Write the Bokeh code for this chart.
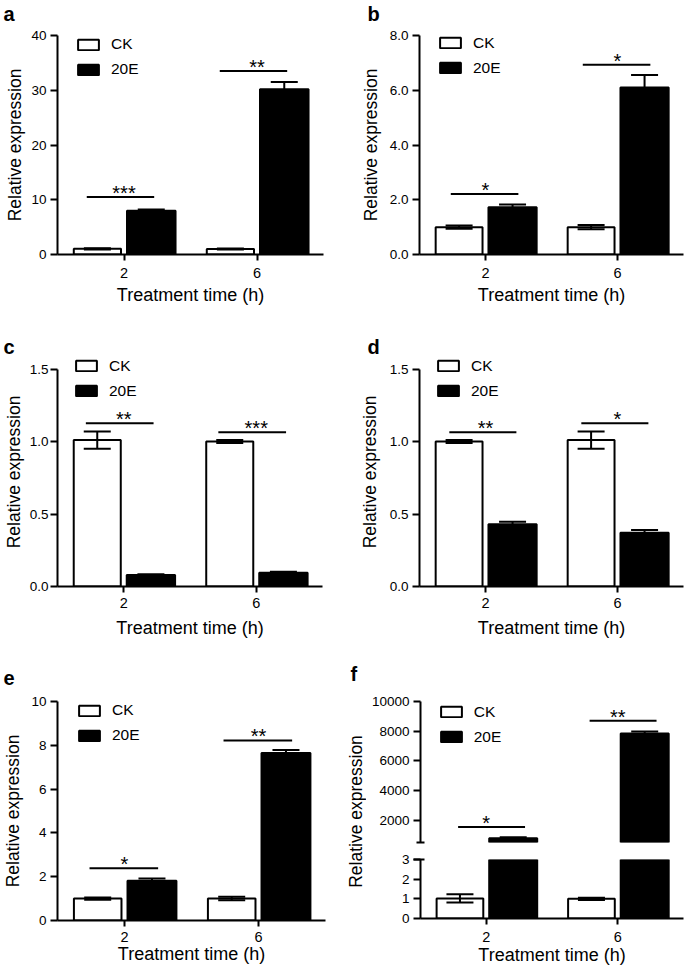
import math
from bokeh.plotting import figure
from bokeh.models import (ColumnDataSource, FactorRange, Range1d, Whisker, TeeHead, Legend,
                          LegendItem, Label, Title, FixedTicker, NumeralTickFormatter)
from bokeh.transform import dodge
from bokeh.layouts import row, column
from bokeh.core.properties import value
from bokeh.embed import file_html
from bokeh.resources import INLINE

FONT = "Liberation Sans"

# ---------------- data ----------------
times = ["2", "6"]
series_labels = ["CK", "20E"]
x_title = "Treatment time (h)"
y_title = "Relative expression"

a_ck = [1.03, 1.0]
a_ck_err = [0.1, 0.08]
a_20e = [8.0, 30.2]
a_20e_err = [0.2, 1.3]
a_sig_y = [10.5, 33.5]
a_sig = ["***", "**"]
a_ticks = [0, 10, 20, 30, 40]

b_ck = [1.0, 1.0]
b_ck_err = [0.06, 0.08]
b_20e = [1.73, 6.1]
b_20e_err = [0.1, 0.46]
b_sig_y = [2.21, 6.93]
b_sig = ["*", "*"]
b_ticks = [0, 2, 4, 6, 8]

c_ck = [1.01, 1.0]
c_ck_err = [0.06, 0.01]
c_20e = [0.08, 0.095]
c_20e_err = [0.005, 0.006]
c_sig_y = [1.127, 1.065]
c_sig = ["**", "***"]
c_ticks = [0, 0.5, 1.0, 1.5]

d_ck = [1.0, 1.01]
d_ck_err = [0.01, 0.06]
d_20e = [0.43, 0.37]
d_20e_err = [0.017, 0.02]
d_sig_y = [1.065, 1.127]
d_sig = ["**", "*"]
d_ticks = [0, 0.5, 1.0, 1.5]

e_ck = [1.0, 1.0]
e_ck_err = [0.05, 0.08]
e_20e = [1.82, 7.65]
e_20e_err = [0.1, 0.13]
e_sig_y = [2.39, 8.22]
e_sig = ["*", "**"]
e_ticks = [0, 2, 4, 6, 8, 10]

f_ck = [1.02, 1.0]
f_ck_err = [0.21, 0.06]
f_20e = [780, 7850]
f_20e_err = [70, 130]
f_sig_y = [1550, 8700]
f_sig = ["*", "**"]
f_ticks_upper = [2000, 4000, 6000, 8000, 10000]
f_ticks_lower = [0, 1, 2, 3]
f_upper_range = [500, 10000]
f_lower_range = [0, 3]

# ---------------- style constants ----------------
CK_OFF, E_OFF = -0.2, 0.205
CK_W, E_W = 0.355, 0.365
CAP = 27
LEG_H = 45


def make_source(ck, ck_err, e, e_err, sig_y, sig):
    return ColumnDataSource(dict(
        time=times,
        ck=ck, ck_up=[v + s for v, s in zip(ck, ck_err)], ck_lo=[v - s for v, s in zip(ck, ck_err)],
        e=e, e_up=[v + s for v, s in zip(e, e_err)], e_lo=[v - s for v, s in zip(e, e_err)],
        sig_y=sig_y, sig=sig))


def new_fig(xr, yr, w, h, bl, br, bt, bb, x_axis=True, y_axis=True):
    p = figure(x_range=xr, y_range=yr, width=w, height=h,
               min_border_left=bl, min_border_right=br, min_border_top=bt, min_border_bottom=bb,
               output_backend="svg", toolbar_location=None, tools="",
               x_axis_location="below" if x_axis else None,
               y_axis_location="left" if y_axis else None)
    p.outline_line_color = None
    p.grid.visible = False
    p.background_fill_color = "white"
    p.border_fill_color = "white"
    return p


def common_axis(ax, size, tick_out=7):
    ax.axis_line_width = 2
    ax.axis_line_color = "black"
    ax.major_tick_line_width = 2
    ax.major_tick_line_color = "black"
    ax.major_tick_in = 0
    ax.major_tick_out = tick_out
    ax.minor_tick_line_color = None
    ax.major_label_text_font = FONT
    ax.major_label_text_font_size = size
    ax.major_label_text_color = "black"
    ax.axis_label_text_font = FONT
    ax.axis_label_text_font_style = "normal"
    ax.axis_label_text_color = "black"


def style_x(p, lab_std, title_std):
    ax = p.xaxis[0]
    common_axis(ax, "14.5px", 6)
    ax.major_label_standoff = lab_std
    ax.axis_label = x_title
    ax.axis_label_text_font_size = "18px"
    ax.axis_label_standoff = title_std


def style_y(p, ticks, fmt, lab_std, title_std, minor=None, minor_in=0, minor_out=0,
            with_title=True, bounds=None):
    ax = p.yaxis[0]
    common_axis(ax, "13.5px", 7)
    ax.ticker = FixedTicker(ticks=ticks, minor_ticks=minor or [])
    if fmt:
        ax.formatter = NumeralTickFormatter(format=fmt)
    ax.major_label_standoff = lab_std
    if bounds is not None:
        ax.bounds = bounds
    if minor:
        ax.minor_tick_line_color = "black"
        ax.minor_tick_line_width = 2
        ax.minor_tick_in = minor_in
        ax.minor_tick_out = minor_out
    if with_title:
        ax.axis_label = y_title
        ax.axis_label_text_font_size = "17.5px"
        ax.axis_label_standoff = title_std


def add_bars(p, xr, src):
    ck_r = p.vbar(x=dodge("time", CK_OFF, range=xr), top="ck", bottom=0, width=CK_W, source=src,
                  fill_color="white", line_color="black", line_width=2)
    e_r = p.vbar(x=dodge("time", E_OFF, range=xr), top="e", bottom=0, width=E_W, source=src,
                 fill_color="black", line_color="black", line_width=2)
    return ck_r, e_r


def add_whisker(p, xr, src, off, up, lo):
    w = Whisker(base=dodge("time", off, range=xr), upper=up, lower=lo, source=src,
                level="overlay", line_width=2, line_color="black",
                upper_head=TeeHead(size=CAP, line_width=2, line_color="black"),
                lower_head=TeeHead(size=CAP, line_width=2, line_color="black"))
    p.add_layout(w)


def add_sig(p, xr, src, x0off, x1off):
    p.segment(x0=dodge("time", x0off, range=xr), x1=dodge("time", x1off, range=xr),
              y0="sig_y", y1="sig_y", source=src, line_width=2, line_color="black")
    p.text(x="time", y="sig_y", text="sig", source=src, text_font=value(FONT),
           text_font_size="20px", text_align="center", text_baseline="middle",
           y_offset=-4, text_color="black")


def add_legend(p, ck_r, e_r, lx, top_off, frame_h):
    leg = Legend(items=[LegendItem(label=series_labels[0], renderers=[ck_r]),
                        LegendItem(label=series_labels[1], renderers=[e_r])],
                 location=(lx, frame_h - top_off - LEG_H),
                 glyph_width=26, glyph_height=13, label_height=20, label_standoff=10,
                 spacing=5, padding=0, margin=0, border_line_color=None,
                 background_fill_alpha=0, inactive_fill_alpha=0, label_text_font=FONT,
                 label_text_font_size="15.5px", label_text_color="black")
    p.add_layout(leg)


def add_letter(p, txt, offset, lift):
    t = p.title
    t.text = txt
    t.align = "left"
    t.offset = offset
    t.standoff = 0
    t.vertical_align = "bottom"
    t.text_font = FONT
    t.text_font_size = "20px"
    t.text_font_style = "bold"
    t.text_color = "black"
    if lift:
        # blank spacer between the panel letter and the plot frame
        p.add_layout(Title(text=" ", text_font_size="1px", standoff=lift), "above")


def build_panel(ck, ck_err, e, e_err, sig_y, sig, yticks, yfmt, y_end, geo, letter,
                letter_off, leg_xy, sig_off, x_std, y_std):
    w, h, bl, br, bt, bb = geo
    fh = h - bt - bb
    xr = FactorRange(*times, range_padding=0)
    p = new_fig(xr, Range1d(yticks[0], y_end), w, h, bl, br, bt, bb)
    src = make_source(ck, ck_err, e, e_err, sig_y, sig)
    ck_r, e_r = add_bars(p, xr, src)
    add_whisker(p, xr, src, CK_OFF, "ck_up", "ck_lo")
    add_whisker(p, xr, src, E_OFF, "e_up", "e_lo")
    add_sig(p, xr, src, *sig_off)
    add_legend(p, ck_r, e_r, leg_xy[0], leg_xy[1], fh)
    style_x(p, *x_std)
    style_y(p, yticks, yfmt, y_std[0], y_std[1], bounds=(yticks[0], yticks[-1]))
    add_letter(p, letter, *letter_off)
    return p


pa = build_panel(a_ck, a_ck_err, a_20e, a_20e_err, a_sig_y, a_sig, a_ticks, None, 40,
                 (340, 320, 57, 17, 34, 66), "a", (-54, 8), (18, 0.2), (-0.28, 0.227), (7, 4), (4, 3))
pb = build_panel(b_ck, b_ck_err, b_20e, b_20e_err, b_sig_y, b_sig, b_ticks, "0.0", 8,
                 (344, 320, 79, 1, 34, 66), "b", (-52, 8), (18, -1.5), (-0.263, 0.249), (7, 4), (4, 6))
pc = build_panel(c_ck, c_ck_err, c_20e, c_20e_err, c_sig_y, c_sig, c_ticks, "0.0", 1.58,
                 (340, 320, 57, 18, 37, 53), "c", (-54, 0), (16, -0.5), (-0.286, 0.225), (5, 7), (2, 3))
pd = build_panel(d_ck, d_ck_err, d_20e, d_20e_err, d_sig_y, d_sig, d_ticks, "0.0", 1.58,
                 (344, 320, 79, 1, 37, 53), "d", (-52, 0), (16, -0.5), (-0.274, 0.234), (5, 7), (4, 7))
pe = build_panel(e_ck, e_ck_err, e_20e, e_20e_err, e_sig_y, e_sig, e_ticks, None, 10,
                 (340, 327, 57, 15, 61, 47), "e", (-54, 14), (19, -0.8), (-0.261, 0.251), (5, -1), (4, 5))

# ---------------- panel f (broken y axis) ----------------
xr_f = FactorRange(*times, range_padding=0)
src_f = make_source(f_ck, f_ck_err, f_20e, f_20e_err, f_sig_y, f_sig)

pf_up = new_fig(xr_f, Range1d(*f_upper_range), 318, 210, 54, 1, 61, 8, x_axis=False)
ck_up_r, e_up_r = add_bars(pf_up, xr_f, src_f)
ck_up_r.visible = False   # CK bars lie below this segment; kept only for the legend entry
add_whisker(pf_up, xr_f, src_f, E_OFF, "e_up", "e_lo")
add_sig(pf_up, xr_f, src_f, -0.214, 0.295)
add_legend(pf_up, ck_up_r, e_up_r, 17.7, 0.5, 141)
style_y(pf_up, f_ticks_upper, "0", 4, 0, minor=[f_upper_range[0]], minor_in=4, minor_out=4,
        with_title=False)

pf_lo = new_fig(xr_f, Range1d(*f_lower_range), 318, 117, 54, 1, 9, 47)
add_bars(pf_lo, xr_f, src_f)
add_whisker(pf_lo, xr_f, src_f, CK_OFF, "ck_up", "ck_lo")
style_x(pf_lo, 7, 0)
style_y(pf_lo, f_ticks_lower, None, 4, 0, minor=[f_lower_range[1]], minor_in=4, minor_out=7,
        with_title=False)

pf_lab = figure(width=26, height=327, x_range=Range1d(0, 1), y_range=Range1d(0, 1),
                x_axis_location=None, y_axis_location=None, min_border=0,
                output_backend="svg", toolbar_location=None, tools="")
pf_lab.outline_line_color = None
pf_lab.grid.visible = False
pf_lab.add_layout(Label(x=15.5, y=109, x_units="screen", y_units="screen", text=y_title,
                        angle=math.pi / 2, text_align="center", text_baseline="middle",
                        text_font=FONT, text_font_size="17.5px", text_color="black"))
add_letter(pf_lab, "f", 10, 14)

layout = column(
    row(pa, pb),
    row(pc, pd),
    row(pe, pf_lab, column(pf_up, pf_lo)),
)

open("out.html", "w").write(file_html(layout, INLINE))
